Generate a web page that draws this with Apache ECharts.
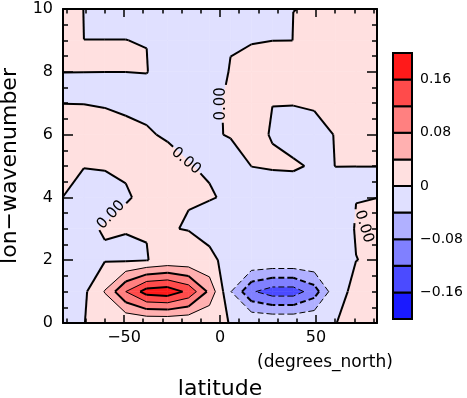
<!DOCTYPE html>
<html>
<head>
<meta charset="utf-8">
<style>
  html, body { margin: 0; padding: 0; background: #fff; }
  #chart { width: 467px; height: 398px; }
</style>
</head>
<body>
<div id="chart"></div>
<script src="https://cdn.jsdelivr.net/npm/echarts@6/dist/echarts.min.js"></script>
<script>
// grid columns (degrees_north) and rows (zonal wavenumber)
var lat = [-81.8, -70.9, -60.0, -49.1, -38.2, -27.3, -16.4, -5.5, 5.5, 16.4, 27.3, 38.2, 49.1, 60.0, 70.9, 81.8];
var wave = [0, 1, 2, 3, 4, 5, 6, 7, 8, 9, 10];

// field values, one row per wavenumber
var k0 = [-0.002, -0.0001, 0.002, 0.002, 0.002, 0.002, 0.002, 0.0018, -0.0002, -0.0005, -0.0005, -0.0005, -0.0005, -0.0001, 0.0012, 0.002];
var k1 = [-0.006, -0.0076, 0.042, 0.12, 0.178, 0.185, 0.15, 0.07, -0.038, -0.115, -0.14, -0.14, -0.1, -0.013, 0.0087, 0.006];
var k2 = [-0.005, -0.005, -0.002, -0.004, -0.001, 0.01, 0.01, 0.006, -0.009, -0.004, -0.004, -0.004, -0.004, -0.003, -0.00017, 0.0015];
var k3 = [-0.003, -0.0026, 0.0011, 0.0008, 0.0008, 0.00078, -0.00064, -0.0076, -0.008, -0.01, -0.01, -0.008, -0.006, -0.008, 0.00085, 0.0025];
var k4 = [-0.0002, -0.01, -0.0047, -0.0002, 0.00047, 0.001, 0.00044, 0.00085, -0.00165, -0.0115, -0.01, -0.01, -0.008, -0.0017, -0.0002, -0.00005];
var k5 = [0.01, 0.00075, 0.00083, 0.00025, 0.004, 0.01, 0.00035, -0.00104, -0.0117, 0.00023, 0.0015, 0.002, -0.00177, 0.000035, 0.000004, 0.000001];
var k6 = [0.01, 0.0097, 0.0085, 0.006, 0.0026, -0.003, -0.0018, -0.003, 0.0016, 0.0026, -0.0006, -0.006, -0.004, 0.0004, 0.003, 0.003];
var k7 = [-0.0002, -0.0003, -0.0015, -0.004, -0.006, -0.008, -0.008, -0.003, 0.002, 0.003, 0.00007, 0.0005, 0.0013, 0.003, 0.003, 0.003];
var k8 = [0.000005, 0.000005, 0.00001, 0.00002, 0.00035, -0.0055, -0.006, -0.0045, 0.0005, 0.005, 0.005, 0.005, 0.005, 0.005, 0.005, 0.005];
var k9 = [0.002, 0.000002, 0.00006, 0.00002, -0.00012, -0.002, -0.002, -0.002, -0.00054, -0.0007, -0.00005, 0.000002, 0.002, 0.002, 0.002, 0.002];
var k10 = [0.002, -0.00006, -0.002, -0.0007, -0.002, -0.002, -0.002, -0.002, -0.002, -0.002, -0.002, -0.0000002, 0.000001, 0.001, 0.001, 0.001];
var field = [k0, k1, k2, k3, k4, k5, k6, k7, k8, k9, k10];

var levels = [-0.16, -0.12, -0.08, -0.04, 0, 0.04, 0.08, 0.12, 0.16];
var bandColors = ['#1a1aff', '#4b4bff', '#8080ff', '#b0b0ff', '#e0e0ff',
                  '#ffe0e0', '#ffb0b0', '#ff8080', '#ff4b4b', '#ff1a1a'];
var barEdges = [-0.2, -0.16, -0.12, -0.08, -0.04, 0, 0.04, 0.08, 0.12, 0.16, 0.2];
var barLabels = [-0.16, -0.08, 0, 0.08, 0.16];

var xMajor = [-50, 0, 50];
var xMinor = [-80, -70, -60, -40, -30, -20, -10, 10, 20, 30, 40, 60, 70, 80];
var yMajor = [0, 2, 4, 6, 8, 10];
var yMinor = [0.5, 1, 1.5, 2.5, 3, 3.5, 4.5, 5, 5.5, 6.5, 7, 7.5, 8.5, 9, 9.5];

// contour labels: [lat, wavenumber, angle in degrees]
var lineLabels = [[-17.7, 5.16, -40], [0.8, 6.98, 90], [-56.8, 3.44, 47], [75, 3.07, -73]];

var FONT = 'DejaVu Sans';

function minus(v) {
  return v < 0 ? '\u2212' + (-v) : String(v);
}

function corners(j, i) {
  return [
    [lat[j], wave[i], field[i][j]],
    [lat[j + 1], wave[i], field[i][j + 1]],
    [lat[j + 1], wave[i + 1], field[i + 1][j + 1]],
    [lat[j], wave[i + 1], field[i + 1][j]]
  ];
}

// keep the part of a cell polygon above (or below) a level
function clip(poly, lev, above) {
  var out = [];
  for (var n = 0; n < poly.length; n++) {
    var a = poly[n], b = poly[(n + 1) % poly.length];
    var ina = above ? a[2] >= lev : a[2] < lev;
    var inb = above ? b[2] >= lev : b[2] < lev;
    if (ina) out.push(a);
    if (ina !== inb) {
      var t = (lev - a[2]) / (b[2] - a[2]);
      out.push([a[0] + t * (b[0] - a[0]), a[1] + t * (b[1] - a[1]), lev]);
    }
  }
  return out;
}

function cells() {
  var d = [];
  for (var i = 0; i < wave.length - 1; i++) {
    for (var j = 0; j < lat.length - 1; j++) {
      d.push([(lat[j] + lat[j + 1]) / 2, (wave[i] + wave[i + 1]) / 2, j, i]);
    }
  }
  return d;
}

function renderFill(params, api) {
  var quad = corners(api.value(2), api.value(3));
  var children = [];
  for (var k = 0; k < bandColors.length; k++) {
    var poly = quad;
    if (k > 0) poly = clip(poly, levels[k - 1], true);
    if (k < levels.length && poly.length) poly = clip(poly, levels[k], false);
    if (poly.length < 3) continue;
    children.push({
      type: 'polygon',
      shape: { points: poly.map(function (p) { return api.coord([p[0], p[1]]); }) },
      style: { fill: bandColors[k], stroke: bandColors[k], lineWidth: 0.6 }
    });
  }
  return { type: 'group', children: children };
}

// cut the part of a pixel segment that lies under a label box
function cutOut(seg, box) {
  var p = seg[0], q = seg[1];
  var c = Math.cos(box.r), s = Math.sin(box.r);
  var u0 = (p[0] - box.x) * c - (p[1] - box.y) * s;
  var v0 = (p[0] - box.x) * s + (p[1] - box.y) * c;
  var u1 = (q[0] - box.x) * c - (q[1] - box.y) * s;
  var v1 = (q[0] - box.x) * s + (q[1] - box.y) * c;
  var du = u1 - u0, dv = v1 - v0;
  var t0 = 0, t1 = 1;
  var checks = [[-du, u0 + box.w], [du, box.w - u0], [-dv, v0 + box.h], [dv, box.h - v0]];
  for (var n = 0; n < 4; n++) {
    var pp = checks[n][0], qq = checks[n][1];
    if (pp === 0) {
      if (qq < 0) return [seg];
    } else {
      var t = qq / pp;
      if (pp < 0) { if (t > t0) t0 = t; } else { if (t < t1) t1 = t; }
    }
  }
  if (t0 >= t1) return [seg];
  var at = function (t) { return [p[0] + t * (q[0] - p[0]), p[1] + t * (q[1] - p[1])]; };
  var out = [];
  if (t0 > 0) out.push([p, at(t0)]);
  if (t1 < 1) out.push([at(t1), q]);
  return out;
}

function renderLines(params, api) {
  var quad = corners(api.value(2), api.value(3));
  var boxes = lineLabels.map(function (l) {
    var c = api.coord([l[0], l[1]]);
    return { x: c[0], y: c[1], r: l[2] * Math.PI / 180, w: 19, h: 8 };
  });
  var children = [];
  levels.forEach(function (lev) {
    var pts = [];
    for (var e = 0; e < 4; e++) {
      var a = quad[e], b = quad[(e + 1) % 4];
      if ((a[2] >= lev) !== (b[2] >= lev)) {
        var t = (lev - a[2]) / (b[2] - a[2]);
        pts.push(api.coord([a[0] + t * (b[0] - a[0]), a[1] + t * (b[1] - a[1])]));
      }
    }
    var segs = [];
    if (pts.length === 2) {
      segs.push([pts[0], pts[1]]);
    } else if (pts.length === 4) {
      var mid = (quad[0][2] + quad[1][2] + quad[2][2] + quad[3][2]) / 4;
      if ((mid >= lev) === (quad[0][2] >= lev)) {
        segs.push([pts[0], pts[1]], [pts[2], pts[3]]);
      } else {
        segs.push([pts[3], pts[0]], [pts[1], pts[2]]);
      }
    }
    boxes.forEach(function (box) {
      var next = [];
      segs.forEach(function (sg) { next = next.concat(cutOut(sg, box)); });
      segs = next;
    });
    var a8 = Math.abs(Math.round(lev * 100));
    var width = (a8 === 0 || a8 === 8 || a8 === 16) ? 2 : 1;
    segs.forEach(function (sg) {
      children.push({
        type: 'line',
        shape: { x1: sg[0][0], y1: sg[0][1], x2: sg[1][0], y2: sg[1][1] },
        style: { stroke: '#000', lineWidth: width, lineDash: lev < 0 ? [6, 3] : null, lineCap: 'butt' }
      });
    });
  });
  return { type: 'group', children: children };
}

function renderLabel(params, api) {
  var pt = api.coord([api.value(0), api.value(1)]);
  return {
    type: 'text',
    x: pt[0], y: pt[1],
    rotation: api.value(2) * Math.PI / 180,
    style: {
      text: '0.00', fill: '#000', font: '15px "' + FONT + '"',
      align: 'center', verticalAlign: 'middle',
      textAlign: 'center', textVerticalAlign: 'middle'
    }
  };
}

function renderBox(params, api) {
  var k = api.value(2);
  var a = api.coord([0, barEdges[k]]);
  var b = api.coord([1, barEdges[k + 1]]);
  return {
    type: 'rect',
    shape: { x: a[0], y: b[1], width: b[0] - a[0], height: a[1] - b[1] },
    style: { fill: bandColors[k], stroke: '#000', lineWidth: 2 }
  };
}

var frame = { show: true, onZero: false, lineStyle: { color: '#000', width: 2 } };
var noLine = { show: false, onZero: false };

function xAx(pos, ticks, len, line, labels) {
  return {
    type: 'value', gridIndex: 0, position: pos, min: -81.8, max: 81.8, z: 10,
    axisLine: line ? frame : noLine,
    axisTick: { show: true, inside: true, length: len, customValues: ticks, lineStyle: { color: '#000', width: 1.5 } },
    axisLabel: labels ? { show: true, customValues: ticks, margin: 7, color: '#000', fontSize: 16, fontFamily: FONT, formatter: minus } : { show: false },
    splitLine: { show: false }
  };
}
function yAx(pos, ticks, len, line, labels) {
  return {
    type: 'value', gridIndex: 0, position: pos, min: 0, max: 10, z: 10,
    axisLine: line ? frame : noLine,
    axisTick: { show: true, inside: true, length: len, customValues: ticks, lineStyle: { color: '#000', width: 1.5 } },
    axisLabel: labels ? { show: true, customValues: ticks, margin: 10, color: '#000', fontSize: 16, fontFamily: FONT } : { show: false },
    splitLine: { show: false }
  };
}

var xAxes = [
  xAx('bottom', xMajor, 8, true, true),
  xAx('bottom', xMinor, 4.5, false, false),
  xAx('top', xMajor, 8, true, false),
  xAx('top', xMinor, 4.5, false, false),
  { type: 'value', gridIndex: 1, min: 0, max: 1, show: false }
];
xAxes[0].name = 'latitude';
xAxes[0].nameLocation = 'middle';
xAxes[0].nameGap = 55;
xAxes[0].nameTextStyle = { fontSize: 22, color: '#000', fontFamily: FONT };

var yAxes = [
  yAx('left', yMajor, 10, true, true),
  yAx('left', yMinor, 5, false, false),
  yAx('right', yMajor, 10, true, false),
  yAx('right', yMinor, 5, false, false),
  {
    type: 'value', gridIndex: 1, position: 'right', min: -0.2, max: 0.2,
    axisLine: { show: false }, axisTick: { show: false }, splitLine: { show: false },
    axisLabel: {
      customValues: barLabels, margin: 8, color: '#000', fontSize: 14, fontFamily: FONT,
      formatter: function (v) { return v === 0 ? '0' : (v < 0 ? '\u2212' : '') + Math.abs(v).toFixed(2); }
    }
  }
];
yAxes[0].name = 'lon\u2212wavenumber';
yAxes[0].nameLocation = 'middle';
yAxes[0].nameGap = 40;
yAxes[0].nameTextStyle = { fontSize: 22, color: '#000', fontFamily: FONT };

var chart = echarts.init(document.getElementById('chart'), null, { renderer: 'canvas' });
chart.setOption({
  animation: false,
  backgroundColor: '#fff',
  textStyle: { fontFamily: FONT },
  grid: [
    { left: 63, top: 9, width: 314, height: 314, containLabel: false, outerBoundsMode: 'none' },
    { left: 393, top: 53, width: 19, height: 266, containLabel: false, outerBoundsMode: 'none' }
  ],
  xAxis: xAxes,
  yAxis: yAxes,
  graphic: [{
    type: 'text', left: 257, top: 354, z: 10,
    style: { text: '(degrees_north)', fill: '#000', font: '17px "' + FONT + '"' }
  }],
  series: [
    { type: 'custom', xAxisIndex: 0, yAxisIndex: 0, z: 1, silent: true, clip: false,
      renderItem: renderFill, data: cells() },
    { type: 'custom', xAxisIndex: 0, yAxisIndex: 0, z: 2, silent: true, clip: false,
      renderItem: renderLines, data: cells() },
    { type: 'custom', xAxisIndex: 0, yAxisIndex: 0, z: 3, silent: true, clip: false,
      renderItem: renderLabel, data: lineLabels },
    { type: 'custom', xAxisIndex: 4, yAxisIndex: 4, z: 3, silent: true, clip: false,
      renderItem: renderBox,
      data: bandColors.map(function (c, k) { return [0.5, (barEdges[k] + barEdges[k + 1]) / 2, k]; }) }
  ]
});
window.addEventListener('resize', chart.resize);
</script>
</body>
</html>
